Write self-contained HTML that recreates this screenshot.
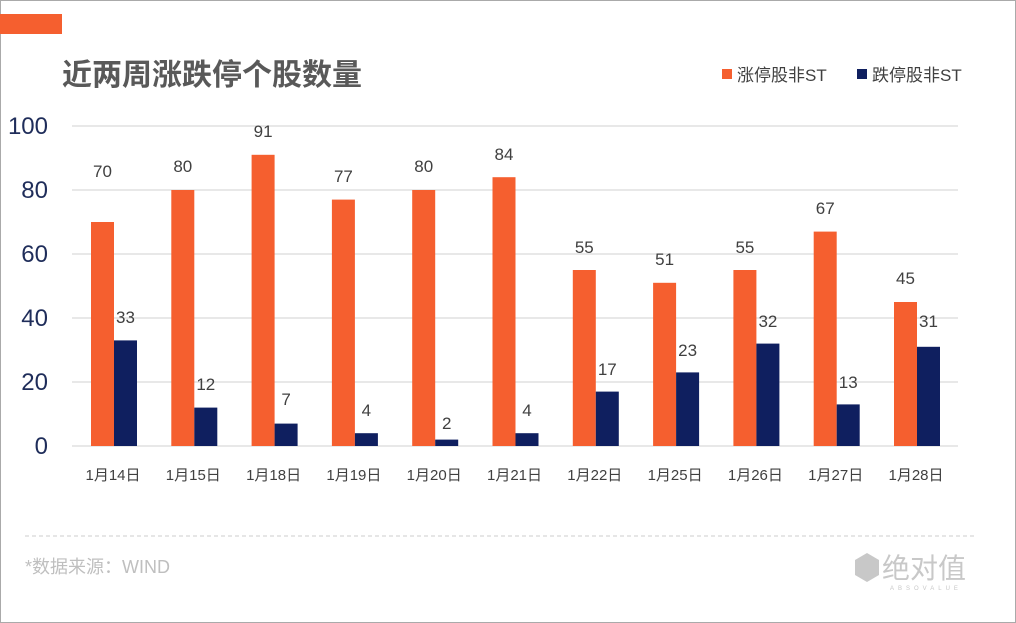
<!DOCTYPE html>
<html><head><meta charset="utf-8"><style>body{margin:0;background:#fff}svg{display:block}text{font-family:"Liberation Sans","Noto Sans CJK SC",sans-serif}</style></head><body>
<svg width="1016" height="623" viewBox="0 0 1016 623" xmlns="http://www.w3.org/2000/svg">
<rect x="0.5" y="0.5" width="1015" height="622" fill="#fff" stroke="#555" stroke-dasharray="1,1"/>
<rect x="0" y="14" width="62" height="20" fill="#f55f2f"/>
<text x="62" y="85" font-size="30" font-weight="bold" fill="#595959">近两周涨跌停个股数量</text>
<rect x="722" y="69" width="10" height="10" fill="#f55f2f"/>
<text x="737" y="81" font-size="17" fill="#404040">涨停股非ST</text>
<rect x="857" y="69" width="10" height="10" fill="#0f1f5f"/>
<text x="872" y="81" font-size="17" fill="#404040">跌停股非ST</text>
<g stroke="#d9d9d9" stroke-width="1.2">
<line x1="72" y1="126" x2="958" y2="126"/><line x1="72" y1="190" x2="958" y2="190"/><line x1="72" y1="254" x2="958" y2="254"/><line x1="72" y1="318" x2="958" y2="318"/><line x1="72" y1="382" x2="958" y2="382"/><line x1="72" y1="446" x2="958" y2="446"/>
</g>
<g font-size="24" fill="#1f2d5a" text-anchor="end">
<text x="48" y="134">100</text><text x="48" y="198">80</text><text x="48" y="262">60</text><text x="48" y="326">40</text><text x="48" y="390">20</text><text x="48" y="454">0</text>
</g>
<g fill="#f55f2f">
<rect x="91" y="222" width="23" height="224"/>
<rect x="171.3" y="190" width="23" height="256"/>
<rect x="251.6" y="154.8" width="23" height="291.2"/>
<rect x="331.9" y="199.6" width="23" height="246.4"/>
<rect x="412.2" y="190" width="23" height="256"/>
<rect x="492.5" y="177.2" width="23" height="268.8"/>
<rect x="572.8" y="270" width="23" height="176"/>
<rect x="653.1" y="282.8" width="23" height="163.2"/>
<rect x="733.4" y="270" width="23" height="176"/>
<rect x="813.7" y="231.6" width="23" height="214.4"/>
<rect x="894" y="302" width="23" height="144"/>
</g>
<g fill="#0f1f5f">
<rect x="114" y="340.4" width="23" height="105.6"/>
<rect x="194.3" y="407.6" width="23" height="38.4"/>
<rect x="274.6" y="423.6" width="23" height="22.4"/>
<rect x="354.9" y="433.2" width="23" height="12.8"/>
<rect x="435.2" y="439.6" width="23" height="6.4"/>
<rect x="515.5" y="433.2" width="23" height="12.8"/>
<rect x="595.8" y="391.6" width="23" height="54.4"/>
<rect x="676.1" y="372.4" width="23" height="73.6"/>
<rect x="756.4" y="343.6" width="23" height="102.4"/>
<rect x="836.7" y="404.4" width="23" height="41.6"/>
<rect x="917" y="346.8" width="23" height="99.2"/>
</g>
<g font-size="17" fill="#404040" text-anchor="middle">
<text x="102.5" y="177">70</text><text x="125.5" y="323">33</text>
<text x="182.8" y="172">80</text><text x="205.8" y="390">12</text>
<text x="263.1" y="137">91</text><text x="286.1" y="405">7</text>
<text x="343.4" y="182">77</text><text x="366.4" y="416">4</text>
<text x="423.7" y="172">80</text><text x="446.7" y="429">2</text>
<text x="504" y="160">84</text><text x="527" y="416">4</text>
<text x="584.3" y="253">55</text><text x="607.3" y="375">17</text>
<text x="664.6" y="265">51</text><text x="687.6" y="356">23</text>
<text x="744.9" y="253">55</text><text x="767.9" y="327">32</text>
<text x="825.2" y="214">67</text><text x="848.2" y="388">13</text>
<text x="905.5" y="284">45</text><text x="928.5" y="327">31</text>
</g>
<g font-size="15" fill="#404040" text-anchor="middle">
<text x="113" y="480">1月14日</text><text x="193.3" y="480">1月15日</text><text x="273.6" y="480">1月18日</text><text x="353.9" y="480">1月19日</text><text x="434.2" y="480">1月20日</text><text x="514.5" y="480">1月21日</text><text x="594.8" y="480">1月22日</text><text x="675.1" y="480">1月25日</text><text x="755.4" y="480">1月26日</text><text x="835.7" y="480">1月27日</text><text x="916" y="480">1月28日</text>
</g>
<line x1="25" y1="536" x2="975" y2="536" stroke="#ccc" stroke-dasharray="4,3"/>
<text x="25" y="573" font-size="18" fill="#bfbfbf">*数据来源：WIND</text>
<polygon points="867,553 879,560 879,575 867,582 855,575 855,560" fill="#c8c8c8"/>
<text x="882" y="578" font-size="28" fill="#c8c8c8">绝对值</text>
<text x="890" y="590" font-size="6" fill="#c8c8c8" letter-spacing="4">ABSOVALUE</text>
</svg>
</body></html>
